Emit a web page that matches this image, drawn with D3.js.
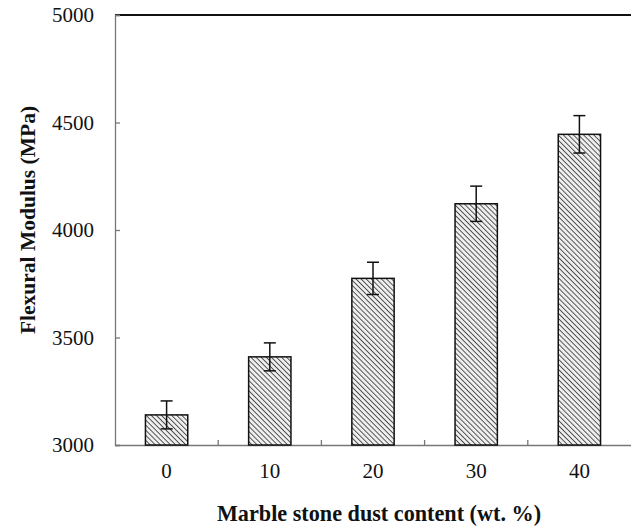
<!DOCTYPE html>
<html><head><meta charset="utf-8">
<script src="https://cdn.jsdelivr.net/npm/d3@7"></script>
<style>body{margin:0;background:#fff}svg{display:block}</style>
</head><body>
<svg id="c" width="631" height="532"></svg>
<script>
const categories = ["0","10","20","30","40"];
const values = [3140, 3410, 3775, 4122, 4445];
const errors = [65, 65, 75, 82, 87];
const yTicks = [3000, 3500, 4000, 4500, 5000];

const svg = d3.select("#c");
const m = {l:115, r:0, t:15, b:87};
const W = 631, H = 532;
const x = d3.scaleBand().domain(categories).range([m.l, W - m.r]).paddingInner(0.59).paddingOuter(0.295);
const xb = d3.scaleBand().domain(categories).range([m.l, W - m.r]);
const y = d3.scaleLinear().domain([3000, 5000]).range([H - m.b, m.t]);

const defs = svg.append("defs");
const pat = defs.append("pattern").attr("id","hatch").attr("patternUnits","userSpaceOnUse")
  .attr("width",3.6).attr("height",3.6).attr("patternTransform","rotate(-45)");
pat.append("rect").attr("width",3.6).attr("height",3.6).attr("fill","#eeeeee");
pat.append("line").attr("x1",0).attr("y1",0).attr("x2",0).attr("y2",3.6).attr("stroke","#333").attr("stroke-width",1.6);

const font = "'Liberation Serif','Times New Roman',serif";
const fs = 21;

// top border
svg.append("line").attr("x1",m.l).attr("x2",W).attr("y1",y(5000)).attr("y2",y(5000))
  .attr("stroke","#111").attr("stroke-width",2);

// y axis
const ya = svg.append("g").attr("transform",`translate(${m.l},0)`)
  .call(d3.axisLeft(y).tickValues(yTicks).tickSize(-5).tickPadding(21).tickFormat(d3.format("d")));
ya.select(".domain").attr("stroke","#777").attr("stroke-width",1.3);
ya.selectAll(".tick line").attr("stroke","#777").attr("stroke-width",1.3);
ya.selectAll("text").style("font-family",font).style("font-size",fs+"px").attr("fill","#111");

// x axis
const xa = svg.append("g").attr("transform",`translate(0,${y(3000)})`)
  .call(d3.axisBottom(x).tickSize(0).tickPadding(18));
xa.select(".domain").attr("stroke","#777").attr("stroke-width",1.3);
xa.selectAll("text").style("font-family",font).style("font-size",fs+"px").attr("fill","#111");
svg.append("g").selectAll("line").data(categories.slice(1)).join("line")
  .attr("x1",d=>xb(d)).attr("x2",d=>xb(d)).attr("y1",y(3000)).attr("y2",y(3000)-5)
  .attr("stroke","#777").attr("stroke-width",1.3);

// bars
svg.append("g").selectAll("rect").data(categories).join("rect")
  .attr("x",d=>x(d)).attr("width",x.bandwidth())
  .attr("y",(d,i)=>y(values[i])).attr("height",(d,i)=>y(3000)-y(values[i]))
  .attr("fill","url(#hatch)").attr("stroke","#111").attr("stroke-width",1.5);

// error bars
const eg = svg.append("g").attr("stroke","#111").attr("stroke-width",1.5);
categories.forEach((c,i)=>{
  const cx = x(c) + x.bandwidth()/2;
  const hi = y(values[i]+errors[i]), lo = y(values[i]-errors[i]);
  eg.append("line").attr("x1",cx).attr("x2",cx).attr("y1",hi).attr("y2",lo);
  eg.append("line").attr("x1",cx-6).attr("x2",cx+6).attr("y1",hi).attr("y2",hi);
  eg.append("line").attr("x1",cx-6).attr("x2",cx+6).attr("y1",lo).attr("y2",lo);
});

// titles
svg.append("text").attr("x",379).attr("y",521).attr("text-anchor","middle")
  .style("font-family",font).style("font-size","22.2px").style("font-weight","bold").attr("fill","#111")
  .text("Marble stone dust content (wt. %)");
svg.append("text").attr("transform","translate(35,220) rotate(-90)").attr("text-anchor","middle")
  .style("font-family",font).style("font-size","21.5px").style("font-weight","bold").attr("fill","#111")
  .text("Flexural Modulus (MPa)");
</script>
</body></html>
